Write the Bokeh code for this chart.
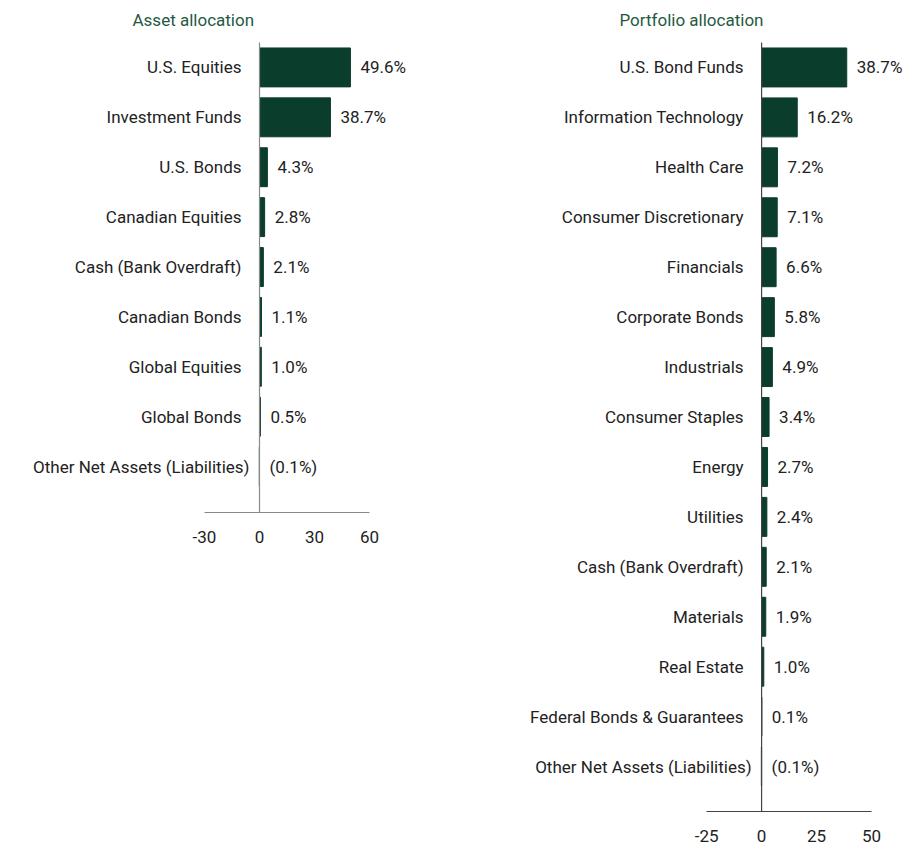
from bokeh.plotting import figure
from bokeh.models import Range1d, ColumnDataSource, FixedTicker, Spacer
from bokeh.layouts import row, column
from bokeh.core.properties import value
from bokeh.embed import file_html
from bokeh.resources import INLINE

asset_categories = ["U.S. Equities", "Investment Funds", "U.S. Bonds", "Canadian Equities",
                    "Cash (Bank Overdraft)", "Canadian Bonds", "Global Equities", "Global Bonds",
                    "Other Net Assets (Liabilities)"]
asset_values = [49.6, 38.7, 4.3, 2.8, 2.1, 1.1, 1.0, 0.5, -0.1]
asset_labels = ["49.6%", "38.7%", "4.3%", "2.8%", "2.1%", "1.1%", "1.0%", "0.5%", "(0.1%)"]
asset_ticks = [-30, 0, 30, 60]

portfolio_categories = ["U.S. Bond Funds", "Information Technology", "Health Care",
                        "Consumer Discretionary", "Financials", "Corporate Bonds", "Industrials",
                        "Consumer Staples", "Energy", "Utilities", "Cash (Bank Overdraft)",
                        "Materials", "Real Estate", "Federal Bonds & Guarantees",
                        "Other Net Assets (Liabilities)"]
portfolio_values = [38.7, 16.2, 7.2, 7.1, 6.6, 5.8, 4.9, 3.4, 2.7, 2.4, 2.1, 1.9, 1.0, 0.1, -0.1]
portfolio_labels = ["38.7%", "16.2%", "7.2%", "7.1%", "6.6%", "5.8%", "4.9%", "3.4%", "2.7%",
                    "2.4%", "2.1%", "1.9%", "1.0%", "0.1%", "(0.1%)"]
portfolio_ticks = [-25, 0, 25, 50]

FONT = "Roboto"
FS = "17px"
BAR = "#0b3d2c"
TITLE_COLOR = "#1f5a40"
TEXT_COLOR = "#222222"


def make(title, cats, vals, labels, ticks, width, height, x0, x1, top_pad, bot_pad,
         title_offset, line_color, standoff):
    n = len(cats)
    src = ColumnDataSource(dict(
        y=list(range(n)), v=vals, cat=cats, lab=labels,
        lx=[max(v, 0) for v in vals], cx=[0] * n,
        coff=[-18 if v >= 0 else -10 for v in vals],
    ))
    p = figure(width=width, height=height, x_range=Range1d(x0, x1),
               y_range=Range1d(n - 1 + bot_pad, -top_pad),
               output_backend="svg", toolbar_location=None, min_border=0,
               title=title, y_axis_location=None)
    p.title.align = "left"
    p.title.offset = title_offset
    p.title.text_font = FONT
    p.title.text_font_size = FS
    p.title.text_font_style = "normal"
    p.title.text_color = TITLE_COLOR
    p.title.standoff = 4
    p.outline_line_color = None
    p.xgrid.visible = False
    p.ygrid.visible = False

    p.hbar(y="y", left=0, right="v", height=0.78, color=BAR, source=src)
    p.segment(x0=0, y0=-0.5, x1=0, y1=n - 1 + bot_pad, line_color=line_color, line_width=1.2)
    p.text(x="lx", y="y", text="lab", x_offset=10, text_align="left", text_baseline="middle",
           text_font=value(FONT), text_font_size=FS, text_color=TEXT_COLOR, source=src)
    p.text(x="cx", y="y", text="cat", x_offset="coff", text_align="right",
           text_baseline="middle", text_font=value(FONT), text_font_size=FS,
           text_color=TEXT_COLOR, source=src)

    ax = p.xaxis[0]
    ax.ticker = FixedTicker(ticks=ticks)
    ax.bounds = (ticks[0], ticks[-1])
    ax.major_label_overrides = {t: str(t) for t in ticks}
    ax.axis_line_color = line_color
    ax.axis_line_width = 1.2
    ax.major_tick_line_color = None
    ax.minor_tick_line_color = None
    ax.major_label_standoff = standoff
    ax.major_label_text_font = FONT
    ax.major_label_text_font_size = FS
    ax.major_label_text_color = TEXT_COLOR
    return p


left = make("Asset allocation", asset_categories, asset_values, asset_labels, asset_ticks,
            450, 540, -141.3, 104.2, 0.72, 0.92, 132, "#8a8a8a", 12)
right = make("Portfolio allocation", portfolio_categories, portfolio_values, portfolio_labels,
             portfolio_ticks, 453, 839, -141.4, 64.5, 0.72, 0.9, 169, "#444444", 12)

layout = column(Spacer(height=5), row(left, right, align="start"))
open("out.html", "w").write(file_html(layout, INLINE))
